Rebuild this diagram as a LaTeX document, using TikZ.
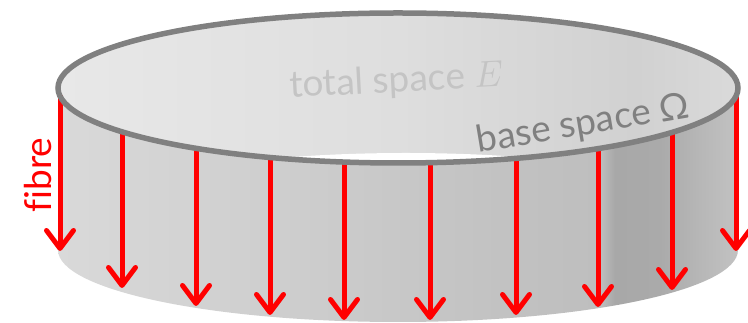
\documentclass[tikz,border=0pt]{standalone}
\usepackage{fix-cm}
\usepackage{fontspec}
\setmainfont{Lato}[Ligatures=NoCommon]
\usetikzlibrary{arrows.meta}
\definecolor{rimgray}{HTML}{808080}
\definecolor{lightlabel}{HTML}{C4C4C4}
\definecolor{s0}{HTML}{D9D9D9}
\definecolor{s1}{HTML}{CDCDCD}
\definecolor{s2}{HTML}{C2C2C2}
\definecolor{s3}{HTML}{BEBEBE}
\definecolor{s4}{HTML}{A8A8A8}
\definecolor{s5}{HTML}{AAAAAA}
\definecolor{s6}{HTML}{B7B7B7}
\definecolor{s7}{HTML}{C2C2C2}
\definecolor{i0}{HTML}{E8E8E8}
\definecolor{i1}{HTML}{DEDEDE}
\definecolor{i2}{HTML}{D1D1D1}
\definecolor{i3}{HTML}{DADADA}
\pgfdeclarehorizontalshading{sideshade}{100bp}{color(0bp)=(s0); color(25bp)=(s0); color(42.8bp)=(s1); color(57.5bp)=(s2); color(64.85bp)=(s3); color(65.95bp)=(s4); color(69.25bp)=(s5); color(72.2bp)=(s6); color(75bp)=(s7); color(100bp)=(s7)}
\pgfdeclarehorizontalshading{innershade}{100bp}{color(0bp)=(i0); color(25bp)=(i0); color(50bp)=(i1); color(67.5bp)=(i2); color(75bp)=(i3); color(100bp)=(i3)}
\tikzset{
  fibrearrow/.style={draw=red, line width=5pt, -{Straight Barb[length=18pt,width=27pt,round]}},
  rimline/.style={draw=rimgray, line width=5.5pt},
  labelfont/.style={font=\fontsize{37}{40}\selectfont, inner sep=0pt}
}
\begin{document}
\begin{tikzpicture}[x=1pt,y=1pt]
\useasboundingbox (0,0) rectangle (748,323);
% side band
\path[shading=sideshade] (58,235) arc[start angle=180, end angle=360, x radius=340, y radius=75]
  -- (738,73) arc[start angle=0, end angle=-180, x radius=340, y radius=72] -- cycle;
% inner top
\path[shading=innershade] (398,235) ellipse[x radius=340, y radius=75];
\begin{scope}
  \clip (398,235) ellipse[x radius=340, y radius=75];
  \fill[white] (406,78) ellipse[x radius=388, y radius=92];
\end{scope}
% arrow ends
\coordinate (t1) at (60,228);   \coordinate (b1) at (60,72);
\coordinate (t2) at (122,191);  \coordinate (b2) at (122,35);
\coordinate (t3) at (196,175);  \coordinate (b3) at (196,17);
\coordinate (t4) at (270,166);  \coordinate (b4) at (270,8);
\coordinate (t5) at (344,161);  \coordinate (b5) at (344,3);
\coordinate (t6) at (430,160);  \coordinate (b6) at (430,3);
\coordinate (t7) at (516,165);  \coordinate (b7) at (516,8);
\coordinate (t8) at (598,174);  \coordinate (b8) at (598,16);
\coordinate (t9) at (672,191);  \coordinate (b9) at (672,33);
\coordinate (t10) at (736,228); \coordinate (b10) at (736,72);
\foreach \i in {1,...,10} { \draw[fibrearrow] (t\i) -- (b\i); }
% rim
\draw[rimline] (398,235) ellipse[x radius=340, y radius=75];
% labels
\node[labelfont, text=lightlabel, rotate=3, anchor=base] (E) at (397,231) {total space $E$};
\node[labelfont, text=rimgray, rotate=9.5, anchor=base] (O) at (585,188) {base space Ω};
\node[labelfont, text=red, rotate=90, anchor=base] (F) at (52,148) {f\kern0pt{}ibre};
\end{tikzpicture}
\end{document}
